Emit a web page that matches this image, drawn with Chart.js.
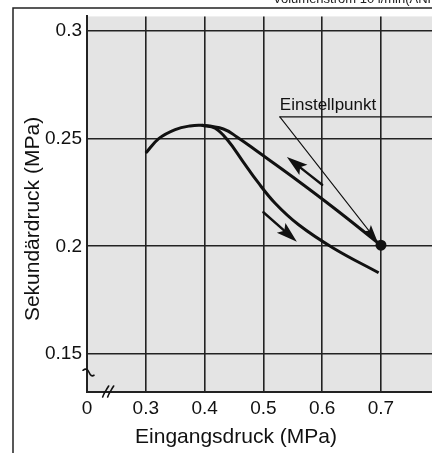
<!DOCTYPE html>
<html>
<head>
<meta charset="utf-8">
<script src="https://cdn.jsdelivr.net/npm/chart.js@4.4.1/dist/chart.umd.min.js"></script>
<style>
  html, body { margin: 0; padding: 0; background: #fff; }
  #wrap { width: 432px; height: 453px; position: relative; }
</style>
</head>
<body>
<div id="wrap"><canvas class="myChart"></canvas></div>
<script>
// axis ticks
const xTicks = [0.2, 0.3, 0.4, 0.5, 0.6, 0.7];
const xTickLabels = ['0', '0.3', '0.4', '0.5', '0.6', '0.7'];
const yTicks = [0.15, 0.2, 0.25, 0.3];
const yTickLabels = ['0.15', '0.2', '0.25', '0.3'];

// curve going up to the peak and back down along the upper branch
const upperX = [0.300, 0.322, 0.350, 0.375, 0.395, 0.432, 0.455, 0.490, 0.550, 0.620, 0.700];
const upperY = [0.2433, 0.2500, 0.2542, 0.2559, 0.2562, 0.2545, 0.2508, 0.2440, 0.2322, 0.2178, 0.2005];

// lower branch splitting off after the peak
const lowerX = [0.395, 0.418, 0.440, 0.465, 0.490, 0.520, 0.560, 0.620, 0.696];
const lowerY = [0.2562, 0.2548, 0.2490, 0.2395, 0.2300, 0.2200, 0.2100, 0.1990, 0.1877];

// set point
const setPoint = [0.700, 0.2005];

// direction arrows [tailX, tailY, tipX, tipY]
const arrowUp = [0.600, 0.2286, 0.540, 0.2415];
const arrowDown = [0.500, 0.2158, 0.557, 0.2021];

// label leader: start of line, arrow tip
const leaderStart = [0.528, 0.2601];
const leaderTip = [0.694, 0.2022];

const xTitle = 'Eingangsdruck (MPa)';
const yTitle = 'Sekundärdruck (MPa)';

const toPts = (xs, ys) => xs.map((x, i) => ({x: x, y: ys[i]}));
const FONT = "'Liberation Sans', Arial, Helvetica, sans-serif";

function arrowHead(ctx, x0, y0, x1, y1, len, w) {
  const ang = Math.atan2(y1 - y0, x1 - x0);
  const bx = x1 - len * Math.cos(ang), by = y1 - len * Math.sin(ang);
  const nx = x1 - len * 0.8 * Math.cos(ang), ny = y1 - len * 0.8 * Math.sin(ang);
  const px = -Math.sin(ang) * w / 2, py = Math.cos(ang) * w / 2;
  ctx.beginPath();
  ctx.moveTo(x0, y0);
  ctx.lineTo(nx, ny);
  ctx.stroke();
  ctx.beginPath();
  ctx.moveTo(x1, y1);
  ctx.lineTo(bx + px, by + py);
  ctx.lineTo(nx, ny);
  ctx.lineTo(bx - px, by - py);
  ctx.closePath();
  ctx.fill();
}

const decor = {
  id: 'decor',
  beforeDraw(chart) {
    const {ctx, chartArea: a} = chart;
    ctx.save();
    ctx.fillStyle = '#e4e4e4';
    ctx.fillRect(a.left, a.top, a.right - a.left, a.bottom - a.top);
    ctx.restore();
  },
  afterDatasetsDraw(chart) {
    const {ctx, chartArea: a} = chart;
    const xs = chart.scales.x, ys = chart.scales.y;
    const X = v => xs.getPixelForValue(v), Y = v => ys.getPixelForValue(v);
    ctx.save();
    ctx.strokeStyle = '#111';
    ctx.fillStyle = '#111';
    ctx.lineCap = 'round';
    ctx.lineJoin = 'round';

    // direction arrows
    ctx.lineWidth = 2.4;
    arrowHead(ctx, X(arrowUp[0]), Y(arrowUp[1]), X(arrowUp[2]), Y(arrowUp[3]), 21, 13);
    arrowHead(ctx, X(arrowDown[0]), Y(arrowDown[1]), X(arrowDown[2]), Y(arrowDown[3]), 21, 13);

    // leader to set point
    ctx.lineWidth = 1.1;
    ctx.beginPath();
    ctx.moveTo(X(leaderStart[0]), Y(leaderStart[1]));
    ctx.lineTo(a.right, Y(leaderStart[1]));
    ctx.stroke();
    arrowHead(ctx, X(leaderStart[0]), Y(leaderStart[1]), X(leaderTip[0]), Y(leaderTip[1]), 17, 10);

    // set point dot
    ctx.beginPath();
    ctx.arc(X(setPoint[0]), Y(setPoint[1]), 5.5, 0, Math.PI * 2);
    ctx.fill();

    // label
    ctx.font = '17px ' + FONT;
    ctx.textBaseline = 'alphabetic';
    ctx.textAlign = 'left';
    ctx.fillText('Einstellpunkt', X(leaderStart[0]), Y(leaderStart[1]) - 7);

    // axis break marks
    ctx.lineWidth = 1.6;
    const bx = a.left, by = Y(0.141);
    ctx.beginPath();
    ctx.moveTo(bx - 4, by - 3);
    ctx.quadraticCurveTo(bx, by - 6, bx + 2, by - 1);
    ctx.quadraticCurveTo(bx + 4, by + 4, bx + 7, by + 2);
    ctx.stroke();
    const cx = X(0.236), cy = a.bottom;
    for (const d of [-2.5, 2.5]) {
      ctx.beginPath();
      ctx.moveTo(cx + d - 3, cy + 5);
      ctx.quadraticCurveTo(cx + d - 1, cy, cx + d, cy - 1);
      ctx.quadraticCurveTo(cx + d + 1, cy - 3, cx + d + 3, cy - 6);
      ctx.stroke();
    }
    ctx.restore();
  },
  afterDraw(chart) {
    const {ctx} = chart;
    ctx.save();
    ctx.strokeStyle = '#222';
    ctx.lineWidth = 1.5;
    ctx.beginPath();
    ctx.moveTo(13, 453);
    ctx.lineTo(13, 8);
    ctx.lineTo(432, 8);
    ctx.stroke();
    ctx.fillStyle = '#222';
    ctx.font = '13px ' + FONT;
    ctx.fillText('Volumenstrom 10 l/min(ANR)', 273, 3);

    // axis titles (the originals sit off-centre)
    ctx.fillStyle = '#111';
    ctx.font = '21px ' + FONT;
    ctx.textAlign = 'center';
    ctx.textBaseline = 'middle';
    ctx.fillText(xTitle, 236, 437);
    ctx.translate(33, 219);
    ctx.rotate(-Math.PI / 2);
    ctx.fillText(yTitle, 0, 0);
    ctx.restore();
  }
};

new Chart(document.querySelector('.myChart'), {
  type: 'scatter',
  data: {
    datasets: [{
      label: 'upper',
      data: toPts(upperX, upperY),
      showLine: true,
      tension: 0.4,
      borderColor: '#111',
      borderWidth: 3,
      pointRadius: 0
    }, {
      label: 'lower',
      data: toPts(lowerX, lowerY),
      showLine: true,
      tension: 0.4,
      borderColor: '#111',
      borderWidth: 3,
      pointRadius: 0
    }]
  },
  options: {
    responsive: true,
    maintainAspectRatio: false,
    animation: false,
    devicePixelRatio: 1,
    layout: { padding: { top: 8, right: 0, left: 0, bottom: 0 } },
    plugins: { legend: { display: false }, tooltip: { enabled: false } },
    scales: {
      x: {
        type: 'linear',
        min: 0.2,
        max: 0.7868,
        afterBuildTicks: s => { s.ticks = xTicks.map(v => ({value: v})); },
        afterFit: s => { s.height = 61; },
        ticks: {
          padding: 5,
          color: '#111',
          font: { family: FONT, size: 19 },
          callback: (v, i) => xTickLabels[i]
        },
        grid: { color: '#222', lineWidth: 1.6, drawTicks: false },
        border: { color: '#222', width: 2 }
      },
      y: {
        type: 'linear',
        min: 0.1323,
        max: 0.3068,
        afterBuildTicks: s => { s.ticks = yTicks.map(v => ({value: v})); },
        afterFit: s => { s.width = 87; },
        ticks: {
          padding: 5,
          color: '#111',
          font: { family: FONT, size: 19 },
          callback: (v, i) => yTickLabels[i]
        },
        grid: { color: '#222', lineWidth: 1.6, drawTicks: false },
        border: { color: '#222', width: 2 }
      }
    }
  },
  plugins: [decor]
});
</script>
</body>
</html>
